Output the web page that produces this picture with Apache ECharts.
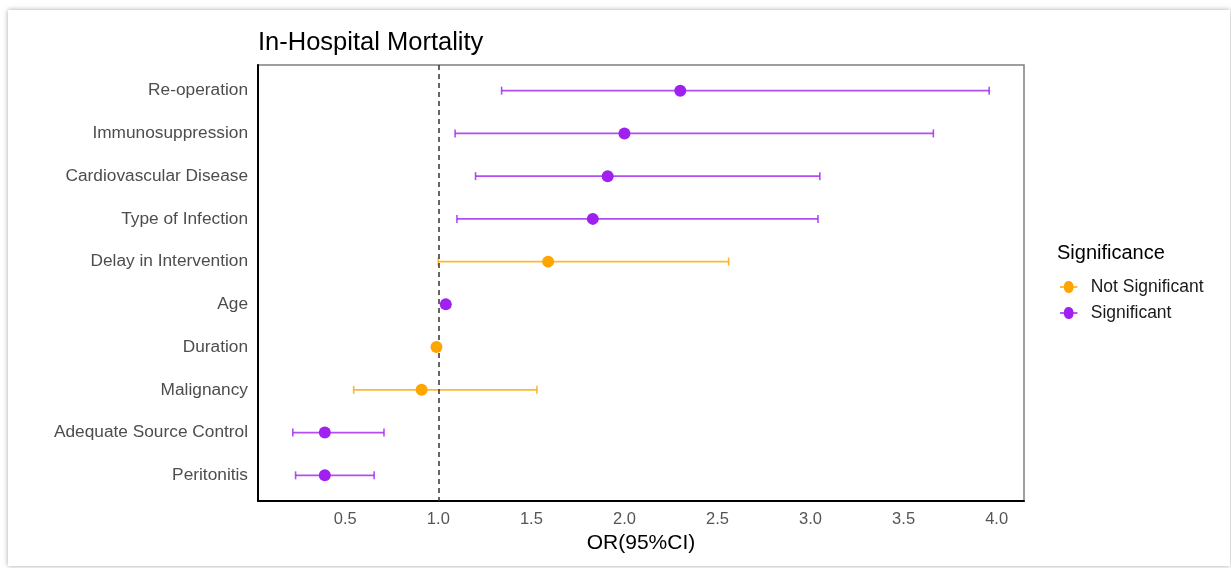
<!DOCTYPE html>
<html>
<head>
<meta charset="utf-8">
<script src="https://cdn.jsdelivr.net/npm/echarts@6/dist/echarts.min.js"></script>
<style>
  html, body { margin: 0; padding: 0; background: #ffffff; }
  #card { position: absolute; left: 8px; top: 10px; width: 1222px; height: 556px; background: #fff;
          box-shadow: 0 0 5px rgba(0,0,0,0.35); }
  #chart { position: absolute; left: 0; top: 0; width: 1231px; height: 568px; }
</style>
</head>
<body>
<div id="card"></div>
<div id="chart"></div>
<script>
// ---- data ----
const categories = ['Re-operation', 'Immunosuppression', 'Cardiovascular Disease', 'Type of Infection',
  'Delay in Intervention', 'Age', 'Duration', 'Malignancy', 'Adequate Source Control', 'Peritonitis'];
const oddsRatio = [2.30, 2.00, 1.91, 1.83, 1.59, 1.04, 0.99, 0.91, 0.39, 0.39];
const ciLower   = [1.34, 1.09, 1.20, 1.10, 1.00, 1.02, 0.98, 0.545, 0.218, 0.233];
const ciUpper   = [3.96, 3.66, 3.05, 3.04, 2.56, 1.06, 1.00, 1.53, 0.708, 0.655];
const significance = ['Significant', 'Significant', 'Significant', 'Significant', 'Not Significant',
  'Significant', 'Not Significant', 'Not Significant', 'Significant', 'Significant'];
const xTicks = [0.5, 1.0, 1.5, 2.0, 2.5, 3.0, 3.5, 4.0];
const groups = ['Not Significant', 'Significant'];
const referenceLine = 1.0;

const colors = { 'Not Significant': '#FFA500', 'Significant': '#A020F0' };
const barColors = { 'Not Significant': 'rgba(255,165,0,0.8)', 'Significant': 'rgba(160,32,240,0.8)' };

const pointData = {}, barData = {};
groups.forEach(g => { pointData[g] = []; barData[g] = []; });
categories.forEach((c, i) => {
  const g = significance[i];
  pointData[g].push([oddsRatio[i], i]);
  barData[g].push([ciLower[i], ciUpper[i], i]);
});

function renderErrorBar(params, api) {
  const y = api.value(2);
  const lo = api.coord([api.value(0), y]);
  const hi = api.coord([api.value(1), y]);
  const h = 8;
  const style = { stroke: api.visual('color'), lineWidth: 1.6, fill: null };
  return { type: 'group', children: [
    { type: 'line', shape: { x1: lo[0], y1: lo[1], x2: hi[0], y2: hi[1] }, style: style },
    { type: 'line', shape: { x1: lo[0], y1: lo[1] - h / 2, x2: lo[0], y2: lo[1] + h / 2 }, style: style },
    { type: 'line', shape: { x1: hi[0], y1: hi[1] - h / 2, x2: hi[0], y2: hi[1] + h / 2 }, style: style }
  ]};
}

const legendIcon = 'path://M0,5.2H5.05A6,6 0 1 1 16.95,5.2H22V6.8H16.95A6,6 0 1 1 5.05,6.8H0Z';

const series = [];
groups.forEach(g => {
  series.push({
    name: g, type: 'custom', renderItem: renderErrorBar,
    itemStyle: { color: barColors[g] },
    encode: { x: [0, 1], y: 2 },
    data: barData[g], z: 2, silent: true
  });
});
series.push({
  type: 'custom', name: 'ref', renderItem: () => ({ type: 'group', children: [] }), data: [],
  markLine: { silent: true, symbol: 'none', label: { show: false },
    lineStyle: { color: '#333333', type: [5, 4], width: 1.5 },
    data: [{ xAxis: referenceLine }] }, z: 3
});
groups.forEach(g => {
  series.push({
    name: g, type: 'scatter', symbol: 'circle', symbolSize: 12,
    itemStyle: { color: colors[g], opacity: 1 },
    data: pointData[g], z: 5, silent: true
  });
});

const chart = echarts.init(document.getElementById('chart'), null, { renderer: 'canvas' });
chart.setOption({
  backgroundColor: 'transparent',
  animation: false,
  textStyle: { fontFamily: 'Liberation Sans, Arial, sans-serif' },
  title: [
    { text: 'In-Hospital Mortality', left: 258, top: 30, padding: 0,
      textStyle: { fontSize: 25.5, fontWeight: 'normal', color: '#000', fontFamily: 'Liberation Sans' } },
    { text: 'Significance', left: 1057, top: 243, padding: 0,
      textStyle: { fontSize: 20, fontWeight: 'normal', color: '#000', fontFamily: 'Liberation Sans' } }
  ],
  legend: {
    orient: 'vertical', left: 1060, top: 278, itemWidth: 22, itemHeight: 12, itemGap: 8, padding: 0,
    data: groups.map(g => ({ name: g, icon: legendIcon, itemStyle: { color: colors[g] } })),
    textStyle: { fontSize: 17.5, color: '#1a1a1a', padding: [0, 0, 0, 6], fontFamily: 'Liberation Sans' },
    selectedMode: false
  },
  grid: { left: 258, right: 207, top: 65, bottom: 67, show: true, borderColor: '#7f7f7f', borderWidth: 1.5,
    backgroundColor: '#fff' },
  xAxis: {
    type: 'value', min: 0.031, max: 4.147,
    name: 'OR(95%CI)', nameLocation: 'middle', nameGap: 31,
    nameTextStyle: { fontSize: 21, color: '#000', fontFamily: 'Liberation Sans' },
    axisLine: { show: true, onZero: false, lineStyle: { color: '#000', width: 2 } },
    axisTick: { show: false },
    splitLine: { show: false },
    axisLabel: { customValues: xTicks, formatter: v => Number(v).toFixed(1), fontSize: 16.5, color: '#555',
      margin: 10, fontFamily: 'Liberation Sans' }
  },
  yAxis: {
    type: 'value', inverse: true, min: -0.6, max: categories.length - 0.4,
    axisLine: { show: true, onZero: false, lineStyle: { color: '#000', width: 2 } },
    axisTick: { show: false },
    splitLine: { show: false },
    axisLabel: { customValues: categories.map((c, i) => i), formatter: v => categories[Math.round(v)],
      fontSize: 17.3, color: '#4d4d4d', margin: 10, fontFamily: 'Liberation Sans' }
  },
  series: series
});
</script>
</body>
</html>
